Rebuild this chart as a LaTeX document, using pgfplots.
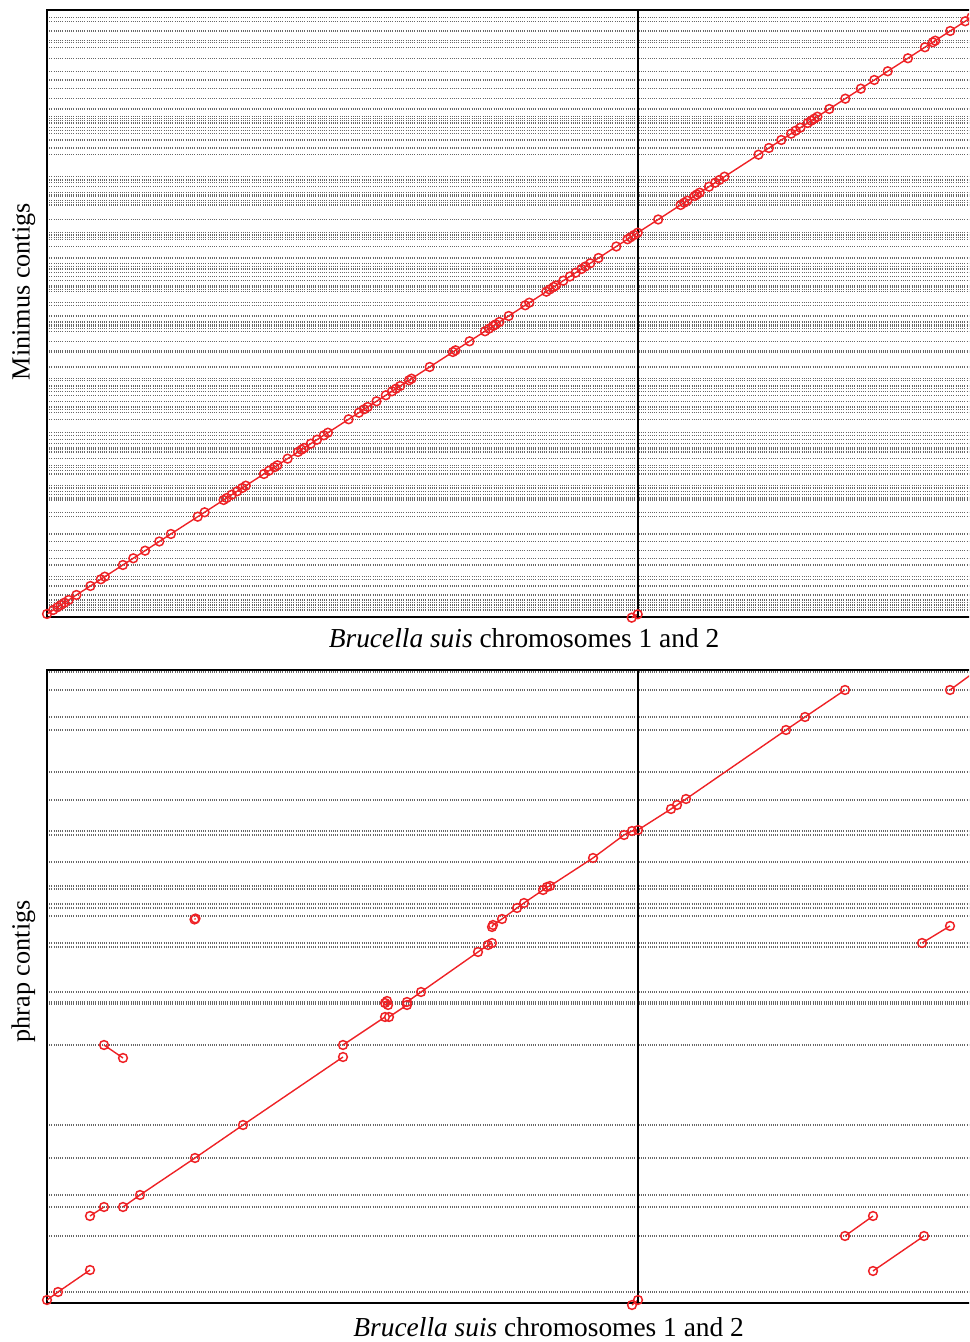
\documentclass[border=0pt]{standalone}
\usepackage{fontspec}
\setmainfont{Liberation Serif}
\usepackage{pgfplots}
\pgfplotsset{compat=1.18}
\definecolor{rd}{RGB}{238,34,38}
\pgfplotsset{
  dotax/.style={
    scale only axis,
    width=464.5pt,
    xmin=0, xmax=929,
    xtick=\empty,
    yticklabels={},
    major tick length=0pt,
    ymajorgrids,
    grid style={black!60, line width=0.55pt, dash pattern=on 0.5pt off 0.6pt},
    axis line style={line width=1pt},
    clip=false,
    xlabel style={font=\fontsize{13.7}{16}\selectfont},
    ylabel style={font=\fontsize{13.1}{15}\selectfont},
  },
  seg/.style={rd, line width=0.7pt, mark=o, mark size=2.2pt, mark options={line width=0.75pt, solid}},
}
\begin{document}
\begin{tikzpicture}[x=1pt,y=1pt]
\useasboundingbox (0,0) rectangle (484.5,671);
\clip (0,0) rectangle (484.5,671);
% ---------------- top panel ----------------
\begin{axis}[dotax,
  at={(23.5pt,362.5pt)}, anchor=south west,
  height=303.5pt, ymin=0, ymax=607,
  ytick={7,9.7,12,14.3,17,22,31,37.7,40.3,52,58.7,66.3,75.5,83,100.3,104.7,117,119,122.3,125.7,129,131.3,143,146.3,149.7,151.7,158.3,165,167.3,169,173.3,177.3,181.7,184.3,197.7,204.3,207.7,210,215.7,221.7,225.7,228.3,231,236.7,238.3,250,265,266.7,275.7,285.7,288.3,291,292.7,295,301,311.7,314.3,325.3,327.5,330,331.5,336.3,340.5,344.3,348,350.5,353.7,359,370.5,377.7,379.7,382,384.3,397.5,412,414.3,416.3,421,422.5,424.3,430.3,434.3,437,440.3,462.3,469,477,483.3,486.3,489.3,494,496.3,498.3,500.3,508,518.3,528.3,537,545.7,558.7,569.7,574.7,576.3,586,595.7,599.7},
  xlabel={\textit{Brucella suis} chromosomes 1 and 2},
  xlabel style={at={(rel axis cs:0.5135,-0.0510)}, anchor=base},
  ylabel={Minimus contigs},
  ylabel style={at={(rel axis cs:-0.0188,0.536)}, anchor=base},
]
\addplot[seg] coordinates {
(0,3) (6.2,7) (10.4,9.7) (13.9,12) (17.5,14.3) (21.7,17) (29.4,22) (43.4,31) (53.8,37.7) (57.8,40.3) (75.9,52) (86.3,58.7) (98.1,66.3) (112.3,75.5) (123.9,83) (150.7,100.3) (157.6,104.7) (176.6,117) (179.7,119) (184.8,122.3) (190.1,125.7) (195.2,129) (198.8,131.3) (216.9,143) (222.0,146.3) (227.3,149.7) (230.4,151.7) (240.6,158.3) (251.0,165) (254.5,167.3) (257.2,169) (263.8,173.3) (270.0,177.3) (276.8,181.7) (280.9,184.3) (301.6,197.7) (311.9,204.3) (317.1,207.7) (320.7,210) (329.5,215.7) (338.8,221.7) (345.0,225.7) (349.0,228.3) (353.2,231) (362.0,236.7) (364.5,238.3) (382.7,250) (405.9,265) (408.5,266.7) (422.5,275.7) (438.0,285.7) (442.0,288.3) (446.2,291) (448.8,292.7) (452.4,295) (461.7,301) (478.2,311.7) (482.3,314.3) (499.3,325.3) (502.7,327.5) (506.6,330) (508.9,331.5) (516.3,336.3) (522.9,340.5) (528.7,344.3) (534.5,348) (538.3,350.5) (543.3,353.7) (551.5,359) (569.3,370.5) (580.5,377.7) (583.6,379.7) (587.1,382) (590.7,384.3) (611.2,397.5) (633.6,412) (637.2,414.3) (640.3,416.3) (647.6,421) (649.9,422.5) (652.7,424.3) (662.0,430.3) (668.2,434.3) (672.4,437) (677.5,440.3) (711.5,462.3) (721.9,469) (734.3,477) (744.1,483.3) (748.7,486.3) (753.4,489.3) (760.7,494) (764.2,496.3) (767.3,498.3) (770.4,500.3) (782.3,508) (798.3,518.3) (813.8,528.3) (827.3,537) (840.7,545.7) (860.9,558.7) (877.9,569.7) (885.7,574.7) (888.2,576.3) (903.2,586) (918.2,595.7) (924.4,599.7) (929,603)
};
\addplot[seg] coordinates {(584.7,-0.7) (590.7,2.7)};
\draw[line width=1pt] (axis cs:591,0) -- (axis cs:591,607);
\end{axis}
% ---------------- bottom panel ----------------
\begin{axis}[dotax,
  at={(23.5pt,19.5pt)}, anchor=south west,
  height=316.5pt, ymin=0, ymax=633,
  ytick={11,67,96,108,145,178,258,299,301,311,356,360,387,395,399,414,417,441,468,472,503,531,573,586,613,631},
  xlabel={\textit{Brucella suis} chromosomes 1 and 2},
  xlabel style={at={(rel axis cs:0.540,-0.0522)}, anchor=base},
  ylabel={phrap contigs},
  ylabel style={at={(rel axis cs:-0.0188,0.524)}, anchor=base},
]
\addplot[seg] coordinates {(0,3) (11,11) (43,33)};
\addplot[seg] coordinates {(43,87) (57,96)};
\addplot[seg] coordinates {(76,96) (93,108) (148,145) (196,178) (296,246)};
\addplot[seg] coordinates {(57,258) (76,245)};
\addplot[seg] coordinates {(147.5,383.5) (148.5,384.5)};
\addplot[seg] coordinates {(296,258) (338,286)};
\addplot[seg] coordinates {(342,286) (360,298)};
\addplot[seg] coordinates {(338,300) (340,302) (341,298)};
\addplot[seg] coordinates {(360,301) (374,311) (431,351) (441,358) (445,360)};
\addplot[seg] coordinates {(445,376) (446,378) (455,384) (470,395) (477,400) (496,413) (500,416) (503,417) (546,445) (577,468) (585,472) (591,473) (624,494) (630,498) (639,504) (739,573) (758,586) (798,613)};
\addplot[seg] coordinates {(903,613) (929,632)};
\addplot[seg] coordinates {(875,360) (903,377)};
\addplot[seg] coordinates {(798,67) (826,87)};
\addplot[seg] coordinates {(826,32) (877,67)};
\addplot[seg] coordinates {(585,-2) (591,3)};
\draw[line width=1pt] (axis cs:591,0) -- (axis cs:591,633);
\end{axis}
\end{tikzpicture}
\end{document}
